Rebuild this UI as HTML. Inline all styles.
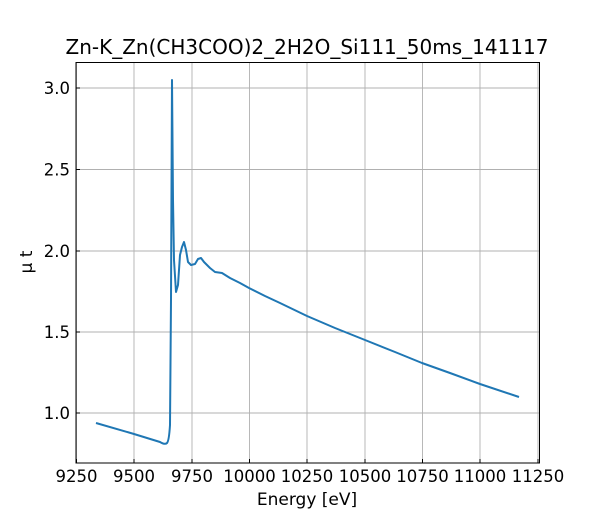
<!DOCTYPE html>
<html><head><style>body{margin:0;background:#fff}svg{display:block}text{font-family:"DejaVu Sans","Liberation Sans",sans-serif;fill:#000}</style></head><body>
<svg width="600" height="520" viewBox="0 0 600 520">
<g stroke="#b0b0b0" stroke-width="0.9">
<line x1="76.5" y1="62" x2="76.5" y2="463"/><line x1="134" y1="62" x2="134" y2="463"/><line x1="192" y1="62" x2="192" y2="463"/><line x1="249.5" y1="62" x2="249.5" y2="463"/><line x1="307" y1="62" x2="307" y2="463"/><line x1="365" y1="62" x2="365" y2="463"/><line x1="422.5" y1="62" x2="422.5" y2="463"/><line x1="480" y1="62" x2="480" y2="463"/><line x1="538" y1="62" x2="538" y2="463"/>
<line x1="76" y1="88" x2="540" y2="88"/><line x1="76" y1="169.5" x2="540" y2="169.5"/><line x1="76" y1="251" x2="540" y2="251"/><line x1="76" y1="332" x2="540" y2="332"/><line x1="76" y1="413" x2="540" y2="413"/>
</g>
<path fill="none" stroke="#1f77b4" stroke-width="2" stroke-linejoin="round" d="M96,423 L134,434 L160,442 Q165,445 167,443 Q169,441 170,425 L171,300 L172,80 L173,200 L174,260 L176,292 L178,285 L180,255 L182,247 L184,242 L186,250 L188,262 L191,265 L195,264 L198,259 L201,258 L204,262 L210,268 L215,272 L222,273 L230,278 L240,283 L249,288 L265,296 L280,303 L307,316 L335,328 L365,340 L395,352 L422,363 L450,373 L480,384 L519,397"/>
<g stroke="#000" stroke-width="1" fill="none">
<rect x="76" y="62.5" width="463.5" height="400.5"/>
<path d="M76.5,463v-4M134,463v-4M192,463v-4M249.5,463v-4M307,463v-4M365,463v-4M422.5,463v-4M480,463v-4M538,463v-4"/>
<path d="M76,88h4M76,169.5h4M76,251h4M76,332h4M76,413h4"/>
</g>
<g font-size="16.5" text-anchor="middle">
<text x="76.5" y="482">9250</text><text x="134" y="482">9500</text><text x="192" y="482">9750</text><text x="249.5" y="482">10000</text><text x="307" y="482">10250</text><text x="365" y="482">10500</text><text x="422.5" y="482">10750</text><text x="480" y="482">11000</text><text x="538" y="482">11250</text>
<text x="307" y="505" font-size="17">Energy [eV]</text>
<text x="307" y="54" font-size="20">Zn-K_Zn(CH3COO)2_2H2O_Si111_50ms_141117</text>
</g>
<g font-size="16.5" text-anchor="end">
<text x="70" y="94">3.0</text><text x="70" y="175.5">2.5</text><text x="70" y="257">2.0</text><text x="70" y="338">1.5</text><text x="70" y="419">1.0</text>
</g>
<text x="32" y="262" font-size="17" text-anchor="middle" transform="rotate(-90 32 262)">μ t</text>
</svg>
</body></html>
